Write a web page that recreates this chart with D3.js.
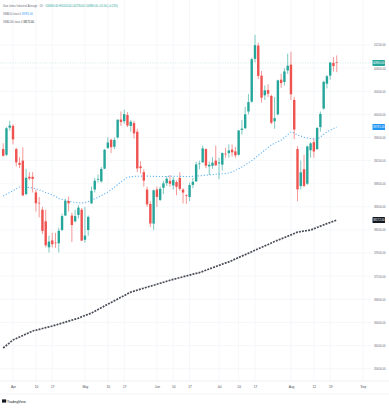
<!DOCTYPE html>
<html>
<head>
<meta charset="utf-8">
<script src="https://cdn.jsdelivr.net/npm/d3@7"></script>
<style>
  body { margin: 0; background: #fff; }
  svg { display: block; font-family: "Liberation Sans", Arial, sans-serif; }
</style>
</head>
<body>
<div class="canvas"></div>
<script>
// DATA - Dow Jones daily bars
const dates = [
  "2024-03-26","2024-03-27","2024-03-28","2024-04-01","2024-04-02","2024-04-03","2024-04-04","2024-04-05",
  "2024-04-08","2024-04-09","2024-04-10","2024-04-11","2024-04-12","2024-04-15","2024-04-16","2024-04-17",
  "2024-04-18","2024-04-19","2024-04-22","2024-04-23","2024-04-24","2024-04-25","2024-04-26","2024-04-29",
  "2024-04-30","2024-05-01","2024-05-02","2024-05-03","2024-05-06","2024-05-07","2024-05-08","2024-05-09",
  "2024-05-10","2024-05-13","2024-05-14","2024-05-15","2024-05-16","2024-05-17","2024-05-20","2024-05-21",
  "2024-05-22","2024-05-23","2024-05-24","2024-05-28","2024-05-29","2024-05-30","2024-05-31","2024-06-03",
  "2024-06-04","2024-06-05","2024-06-06","2024-06-07","2024-06-10","2024-06-11","2024-06-12","2024-06-13",
  "2024-06-14","2024-06-17","2024-06-18","2024-06-20","2024-06-21","2024-06-24","2024-06-25","2024-06-26",
  "2024-06-27","2024-06-28","2024-07-01","2024-07-02","2024-07-03","2024-07-05","2024-07-08","2024-07-09",
  "2024-07-10","2024-07-11","2024-07-12","2024-07-15","2024-07-16","2024-07-17","2024-07-18","2024-07-19",
  "2024-07-22","2024-07-23","2024-07-24","2024-07-25","2024-07-26","2024-07-29","2024-07-30","2024-07-31",
  "2024-08-01","2024-08-02","2024-08-05","2024-08-06","2024-08-07","2024-08-08","2024-08-09","2024-08-12",
  "2024-08-13","2024-08-14","2024-08-15","2024-08-16","2024-08-19","2024-08-20","2024-08-21"
];

const open = [
  39400,39300,39770,39800,39400,39160,39200,38620, 38920,38920,38650,38470,38350,38150,37700,37820,
  37780,37770,38000,38250,38500,38250,38150,38260, 38350,37830,38000,38460,38700,38870,38840,39060,
  39420,39560,39440,39600,39910,39880,39990,39800, 39850,39700,39100,39000,38700,38450,38110,38700,
  38520,38730,38810,38850,38770,38830,38900,38700, 38600,38570,38780,38840,39140,39170,39400,39100,
  39110,39200,39150,39130,39320,39330,39390,39360, 39300,39730,39760,40050,40220,40960,41190,40670,
  40330,40420,40320,39880,40000,40600,40560,40760, 40860,40250,39400,38760,39050,38800,39380,39520,
  39400,39780,40100,40530,40670,40890,40900
];
const high = [
  39500,39780,39890,39830,39420,39260,39430,39060, 39000,39000,38700,38570,38400,38350,37900,37950,
  37950,38040,38280,38540,38580,38300,38350,38430, 38380,38400,38250,38750,38900,38960,39090,39400,
  39600,39580,39600,39910,40050,40080,40040,39900, 39890,39750,39190,39050,38750,38500,38700,38750,
  38750,38850,38930,38950,38920,38860,39000,38720, 38620,38820,38900,39180,39200,39460,39410,39180,
  39260,39460,39250,39340,39420,39480,39480,39440, 39730,39900,40130,40350,40980,41376,41240,40750,
  40500,40520,40340,40300,40600,40700,40800,41050, 41080,40300,39450,39200,39300,39460,39520,39580,
  39780,40050,40580,40680,40900,40990,41020
];
const low = [
  39270,39280,39720,39480,39100,39070,38590,38600, 38860,38650,38320,38220,37930,37700,37610,37700,
  37690,37610,37980,38240,38320,37790,38130,38200, 37810,37780,37900,38450,38650,38820,38820,39050,
  39400,39330,39400,39580,39800,39840,39780,39700, 39580,39000,38980,38750,38400,38050,38000,38400,
  38500,38620,38760,38750,38700,38600,38680,38460, 38450,38500,38720,38830,39050,39160,39070,38950,
  39060,39110,38880,39030,39250,39250,39270,39250, 39290,39650,39750,40000,40200,40900,40610,40200,
  40250,40300,39830,39750,39980,40460,40500,40700, 40250,39570,38499,38700,38740,38780,39250,39250,
  39380,39700,40080,40450,40600,40740,40730
];
const close = [
  39282,39760,39807,39567,39170,39127,38597,38904, 38892,38883,38462,38459,37983,37735,37799,37753,
  37775,37986,38240,38504,38461,38086,38240,38386, 37816,37903,38226,38676,38852,38884,39056,39388,
  39513,39432,39558,39908,39869,40004,39807,39873, 39671,39065,39070,38853,38442,38112,38686,38571,
  38711,38807,38886,38799,38868,38747,38712,38647, 38589,38778,38834,39134,39150,39411,39112,39127,
  39164,39118,39169,39331,39308,39375,39344,39291, 39721,39753,40001,40212,40954,41198,40665,40288,
  40415,40358,39854,39935,40589,40540,40743,40842, 40348,39737,38703,38997,38763,39446,39498,39357,
  39765,40008,40563,40660,40897,40835,40890
];

// SMA (50) and SMA (200), one value per bar
const sma50 = [
  38588,38620,38650,38680,38712,38743,38745,38740, 38735,38726,38712,38695,38675,38650,38630,38605,
  38580,38545,38530,38515,38500,38488,38478,38470, 38467,38475,38490,38515,38540,38565,38595,38625,
  38655,38695,38740,38785,38830,38870,38910,38920, 38925,38930,38930,38932,38932,38930,38928,38926,
  38925,38925,38926,38928,38930,38930,38928,38926, 38925,38926,38928,38932,38937,38942,38948,38953,
  38958,38963,38968,38973,38978,38985,39005,39030, 39058,39090,39125,39160,39200,39245,39290,39335,
  39380,39425,39470,39500,39528,39556,39600,39648, 39695,39672,39645,39625,39605,39590,39582,39576,
  39574,39610,39655,39695,39725,39755,39781
];
const sma200 = [
  35958,36005,36050,36096,36122,36148,36174,36200, 36226,36252,36266,36280,36295,36310,36324,36338,
  36355,36372,36389,36406,36423,36440,36457,36474, 36498,36520,36541,36563,36593,36623,36653,36685,
  36715,36745,36775,36805,36835,36865,36895,36925, 36942,36959,36976,36993,37010,37027,37044,37061,
  37078,37095,37112,37130,37145,37160,37175,37190, 37205,37220,37235,37250,37262,37283,37304,37325,
  37346,37367,37388,37409,37430,37448,37473,37498, 37523,37548,37573,37598,37623,37650,37675,37700,
  37725,37750,37775,37800,37823,37846,37869,37892, 37915,37938,37962,37972,37982,37992,38000,38022,
  38044,38066,38088,38110,38130,38150,38172
];

// empty sessions to the right of the last bar
const futureDates = ["2024-08-22","2024-08-23","2024-08-26","2024-08-27","2024-08-28","2024-08-29",
  "2024-08-30","2024-09-03","2024-09-04","2024-09-05","2024-09-06"];

const xTickDates = ["2024-04-01","2024-04-10","2024-04-17","2024-05-01","2024-05-10","2024-05-17",
  "2024-06-03","2024-06-10","2024-06-17","2024-07-01","2024-07-10","2024-07-17",
  "2024-08-01","2024-08-12","2024-08-19","2024-09-03"];
const xTickLabels = ["Apr","10","17","May","10","17","Jun","10","17","Jul","10","17","Aug","12","19","Sep"];

const yTicks = [35600,36000,36400,36800,37200,37600,38000,38400,38800,39200,39600,40000,40400,40800,41200];

const title = "Dow Jones Industrial Average · 1D";
const sma50Title = "SMA 50 close 0";
const sma200Title = "SMA 200 close 0";

// Dimensions
const W = 389, H = 411;
const plot = { left: 0, right: 371, top: 0, bottom: 381 };

const colors = {
  up: "#26a69a",
  down: "#ef5350",
  grid: "#f0f2f6",
  text: "#6a6d78",
  sma50: "#2196f3",
  sma200: "#2a2e39"
};

const svg = d3.select(".canvas")
  .append("svg")
  .attr("width", W)
  .attr("height", H);

svg.append("rect").attr("width", W).attr("height", H).attr("fill", "#fff");

// SCALES
const n = dates.length;
const xScale = d3.scalePoint()
  .domain(dates.concat(futureDates))
  .range([3.2, 3.2 + (dates.length + futureDates.length - 1) * 3.27]);

const yScale = d3.scaleLinear()
  .domain([35600, 41200])
  .range([368.7, 45]);

// GRID
const grid = svg.append("g");
grid.selectAll(".hg")
  .data(yTicks)
  .enter()
  .append("line")
  .attr("x1", plot.left).attr("x2", plot.right)
  .attr("y1", d => yScale(d)).attr("y2", d => yScale(d))
  .attr("stroke", colors.grid).attr("stroke-width", 0.6);

grid.selectAll(".vg")
  .data(xTickDates)
  .enter()
  .append("line")
  .attr("x1", d => xScale(d)).attr("x2", d => xScale(d))
  .attr("y1", 0).attr("y2", plot.bottom)
  .attr("stroke", colors.grid).attr("stroke-width", 0.6);

// time axis frame
svg.append("line").attr("x1", 0).attr("x2", W).attr("y1", plot.bottom).attr("y2", plot.bottom)
  .attr("stroke", "#e6e8ee").attr("stroke-width", 0.6);
svg.append("line").attr("x1", 0).attr("x2", W).attr("y1", 394).attr("y2", 394)
  .attr("stroke", "#eceef2").attr("stroke-width", 0.6);

// SMA lines
const lineOf = values => d3.line()
  .x((d, i) => xScale(dates[i]))
  .y(d => yScale(d))
  .curve(d3.curveMonotoneX)(values);

svg.append("path")
  .attr("d", lineOf(sma200))
  .attr("fill", "none")
  .attr("stroke", colors.sma200)
  .attr("stroke-width", 1.7)
  .attr("stroke-dasharray", "2 1.1")
  .attr("opacity", 0.85);

svg.append("path")
  .attr("d", lineOf(sma50))
  .attr("fill", "none")
  .attr("stroke", colors.sma50)
  .attr("stroke-width", 1.1)
  .attr("stroke-dasharray", "1.1 1.9")
  .attr("opacity", 0.75);

// last price line
const last = n - 1;
svg.append("line")
  .attr("x1", plot.left).attr("x2", plot.right)
  .attr("y1", yScale(close[last])).attr("y2", yScale(close[last]))
  .attr("stroke", colors.up).attr("stroke-width", 0.5)
  .attr("stroke-dasharray", "1 1.5").attr("opacity", 0.4);

// CANDLES
const bars = d3.range(n).map(i => ({
  date: dates[i], o: open[i], h: high[i], l: low[i], c: close[i]
}));
const bodyW = 2.4;

const candles = svg.append("g").selectAll("g")
  .data(bars)
  .enter()
  .append("g")
  .attr("fill", d => d.c >= d.o ? colors.up : colors.down)
  .attr("stroke", d => d.c >= d.o ? colors.up : colors.down);

candles.append("line")
  .attr("x1", d => xScale(d.date)).attr("x2", d => xScale(d.date))
  .attr("y1", d => yScale(d.h)).attr("y2", d => yScale(d.l))
  .attr("stroke-width", 0.6);

candles.append("rect")
  .attr("x", d => xScale(d.date) - bodyW / 2)
  .attr("y", d => yScale(Math.max(d.o, d.c)))
  .attr("width", bodyW)
  .attr("height", d => Math.max(0.6, Math.abs(yScale(d.o) - yScale(d.c))))
  .attr("stroke", "none");

// PRICE AXIS
const fmt = d3.format(".2f");
const yAxis = svg.append("g")
  .attr("transform", `translate(${plot.right + 2},0)`)
  .call(d3.axisRight(yScale).tickValues(yTicks).tickSize(0).tickPadding(1).tickFormat(fmt));
yAxis.select(".domain").remove();
yAxis.selectAll("text")
  .attr("font-size", 2.8)
  .attr("fill", colors.text)
  .attr("font-family", "Liberation Sans, Arial, sans-serif");

// price tags
const tags = [
  { v: close[last], fill: colors.up },
  { v: sma50[last], fill: colors.sma50 },
  { v: sma200[last], fill: "#131722" }
];
const tag = svg.append("g").selectAll("g")
  .data(tags)
  .enter()
  .append("g")
  .attr("transform", d => `translate(${plot.right + 1.5},${yScale(d.v)})`);
tag.append("rect")
  .attr("x", 0).attr("y", -3)
  .attr("width", 12.5).attr("height", 6)
  .attr("rx", 0.6)
  .attr("fill", d => d.fill);
tag.append("text")
  .attr("x", 6.25).attr("y", 1)
  .attr("text-anchor", "middle")
  .attr("font-size", 2.8)
  .attr("fill", "#fff")
  .text(d => fmt(d.v));

// TIME AXIS
const xAxis = svg.append("g")
  .attr("transform", `translate(0,${plot.bottom})`)
  .call(d3.axisBottom(xScale).tickValues(xTickDates).tickSize(0).tickPadding(5)
    .tickFormat((d, i) => xTickLabels[i]));
xAxis.select(".domain").remove();
xAxis.selectAll("text")
  .attr("font-size", 3.2)
  .attr("fill", "#4a4e5a")
  .attr("font-family", "Liberation Sans, Arial, sans-serif");

// LEGEND
const chg = close[last] - close[last - 1];
const pct = chg / close[last - 1] * 100;
const sign = v => (v >= 0 ? "+" : "");
const ohlc = `O${fmt(open[last])} H${fmt(high[last])} L${fmt(low[last])} C${fmt(close[last])} ${sign(chg)}${fmt(chg)} (${sign(pct)}${fmt(pct)}%)`;

const legend = svg.append("g").attr("font-size", 2.6);
const l1 = legend.append("text").attr("x", 3).attr("y", 7.2);
l1.append("tspan").attr("fill", colors.text).text(title + " · ");
l1.append("tspan").attr("fill", chg >= 0 ? colors.up : colors.down).text(ohlc);

const l2 = legend.append("text").attr("x", 3).attr("y", 15.2);
l2.append("tspan").attr("fill", colors.text).text(sma50Title + " ");
l2.append("tspan").attr("fill", colors.sma50).text(fmt(sma50[last]));

const l3 = legend.append("text").attr("x", 3).attr("y", 23.2);
l3.append("tspan").attr("fill", colors.text).text(sma200Title + " ");
l3.append("tspan").attr("fill", "#131722").text(fmt(sma200[last]));

// logo
const logo = svg.append("g").attr("transform", "translate(2,402)");
logo.append("rect").attr("x", 0).attr("y", -2.6).attr("width", 4.2).attr("height", 3.2).attr("fill", "#131722");
logo.append("text").attr("x", 5).attr("y", 0.6).attr("font-size", 3.4).attr("fill", "#131722").text("TradingView");
</script>
</body>
</html>
